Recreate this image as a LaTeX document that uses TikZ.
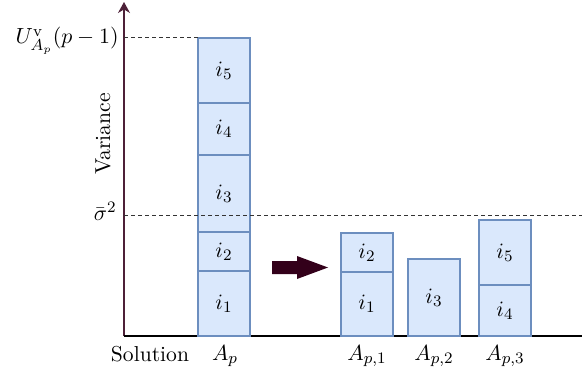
\documentclass[tikz,border=0pt]{standalone}
\usetikzlibrary{arrows.meta}
\definecolor{boxfill}{HTML}{DAE8FC}
\definecolor{boxline}{HTML}{6C8EBF}
\definecolor{axiscol}{HTML}{4D2038}
\definecolor{arrowcol}{HTML}{33001A}
\tikzset{
  box/.style={draw=boxline, fill=boxfill, line width=0.6pt, anchor=north west,
    minimum width=26pt, inner sep=0pt, outer sep=0pt, font=\fontsize{11}{13}\selectfont},
  guide/.style={line width=0.5pt, dash pattern=on 2pt off 1.5pt, black!80},
  lbl/.style={anchor=base, inner sep=0pt, font=\fontsize{11}{13}\selectfont},
  txt/.style={inner sep=0pt, font=\fontsize{10.8}{13}\selectfont},
}
\begin{document}
\begin{tikzpicture}[x=0.5pt, y=-0.5pt]
\useasboundingbox (0,0) rectangle (582,379);
% axes
\coordinate (O) at (124,336);
\coordinate (Ytop) at (124,2);
\coordinate (Xend) at (582,336);
\draw[axiscol, line width=0.7pt, -{Stealth[length=5.5pt,width=6pt]}] (O) -- (Ytop);
\draw[black, line width=0.7pt] (O) -- (Xend);
% big stack
\node[box, minimum height=32.5pt] (b5) at (198,38) {$i_5$};
\node[box, minimum height=26pt] (b4) at (198,103) {$i_4$};
\node[box, minimum height=38.5pt] (b3) at (198,155) {$i_3$};
\node[box, minimum height=19.5pt] (b2) at (198,232) {$i_2$};
\node[box, minimum height=32.5pt] (b1) at (198,271) {$i_1$};
% A_{p,1}
\node[box, minimum height=19.5pt] (c2) at (341,233) {$i_2$};
\node[box, minimum height=32pt] (c1) at (341,272) {$i_1$};
% A_{p,2}
\node[box, minimum height=38.5pt] (d3) at (408,259) {$i_3$};
% A_{p,3}
\node[box, minimum height=32.5pt] (e5) at (479,220) {$i_5$};
\node[box, minimum height=25.5pt] (e4) at (479,285) {$i_4$};
% guides
\coordinate (Ulvl) at (124,38);
\coordinate (Slvl) at (124,215);
\coordinate (Send) at (582,215);
\draw[guide] (Ulvl) -- (b5.north west);
\draw[guide] (Slvl) -- (Send);
% level labels
\node[lbl, anchor=base east] (ulab) at (119,44) {$U^{\mathrm{v}}_{A_p}(p-1)$};
\node[lbl, anchor=base east] (slab) at (117,220) {$\bar{\sigma}^2$};
\node[txt, rotate=90, anchor=base] (var) at (110,134) {Variance};
% bottom labels
\node[txt, anchor=base] (sol) at (150,361) {Solution};
\node[lbl] (ap) at (225,360) {$A_p$};
\node[lbl] (ap1) at (367,360) {$A_{p,1}$};
\node[lbl] (ap2) at (434,360) {$A_{p,2}$};
\node[lbl] (ap3) at (505,360) {$A_{p,3}$};
% block arrow
\fill[arrowcol] (272,261) -- (297,261) -- (297,256) -- (328,267.5) -- (297,279) -- (297,274) -- (272,274) -- cycle;
\end{tikzpicture}
\end{document}
